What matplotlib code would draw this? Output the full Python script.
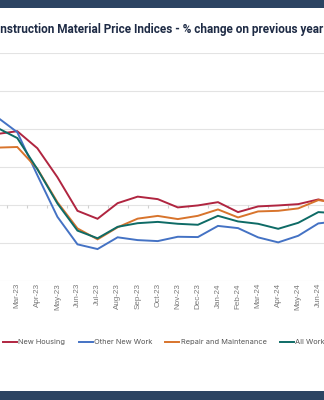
"""Construction material price indices, % change on previous year (cropped view)."""
import matplotlib
matplotlib.use("Agg")
import matplotlib.pyplot as plt
from matplotlib.patches import Rectangle

# --- data ---------------------------------------------------------------------
months = ["Feb-23", "Mar-23", "Apr-23", "May-23", "Jun-23", "Jul-23", "Aug-23",
          "Sep-23", "Oct-23", "Nov-23", "Dec-23", "Jan-24", "Feb-24", "Mar-24",
          "Apr-24", "May-24", "Jun-24", "Jul-24"]
new_housing = [9.38, 9.74, 7.50, 3.68, -0.75, -1.80, 0.26, 1.12, 0.79, -0.30,
               -0.04, 0.39, -0.92, -0.17, -0.04, 0.13, 0.75, 0.13]
other_new_work = [11.59, 9.61, 3.95, -1.54, -5.17, -5.79, -4.24, -4.61, -4.74,
                  -4.17, -4.21, -2.74, -3.03, -4.25, -4.91, -4.04, -2.41, -2.11]
repair_maint = [7.58, 7.66, 4.80, 0.39, -3.07, -4.51, -2.92, -1.78, -1.42, -1.84,
                -1.41, -0.57, -1.62, -0.83, -0.75, -0.43, 0.66, 0.28]
all_work = [10.19, 8.84, 4.74, 0.22, -3.36, -4.37, -2.86, -2.38, -2.21, -2.46,
            -2.59, -1.41, -2.15, -2.46, -3.12, -2.33, -0.92, -1.08]
y_ticks = [-10, -5, 0, 5, 10, 15, 20]

TITLE = "Construction Material Price Indices - % change on previous year"

COLORS = {
    "New Housing": "#B02540",
    "Other New Work": "#4472C4",
    "Repair and Maintenance": "#D8742C",
    "All Work": "#0E6B66",
}
NAVY = "#2C4462"
GRID = "#E3E3E3"
TICK_TXT = "#7A7A7A"
LEGEND_TXT = "#555555"
TITLE_TXT = "#1E2B45"

W, H = 324, 400
fig = plt.figure(figsize=(W / 100, H / 100), dpi=100)
renderer = fig.canvas.get_renderer()


def text_width(s, size, **kw):
    t = fig.text(0, 0, s, fontsize=size, **kw)
    w = t.get_window_extent(renderer).width
    t.remove()
    return w


# photo band top and bottom (just a flat navy here)
fig.add_artist(Rectangle((0, 1 - 8 / H), 1, 8 / H, transform=fig.transFigure,
                         facecolor=NAVY, edgecolor="none", zorder=0))
fig.add_artist(Rectangle((0, 0), 1, 9 / H, transform=fig.transFigure,
                         facecolor=NAVY, edgecolor="none", zorder=0))

# axes run past both edges of the picture: we only see the middle of the chart
x0_px, step_px = -2.8, 20.07
xlo, xhi = -3.5, len(months) + 0.5
left_px = x0_px + xlo * step_px
right_px = x0_px + xhi * step_px
ax = fig.add_axes([left_px / W, (H - 281) / H, (right_px - left_px) / W, 228 / H])
ax.set_facecolor("none")

x = list(range(len(months)))
series = [("New Housing", new_housing), ("Other New Work", other_new_work),
          ("Repair and Maintenance", repair_maint), ("All Work", all_work)]
handles = []
for name, vals in series:
    (ln,) = ax.plot(x, vals, color=COLORS[name], lw=1.4, label=name,
                    solid_joinstyle="miter", zorder=3)
    handles.append(ln)

ax.set_xlim(xlo, xhi)
ax.set_ylim(-10, 20.05)
ax.set_yticks(y_ticks)
ax.yaxis.grid(True, color=GRID, lw=0.8)
ax.set_axisbelow(True)
ax.tick_params(axis="y", length=0, labelleft=False)
for s in ax.spines.values():
    s.set_visible(False)

# category axis crossing at zero, with tick marks between months
ax.vlines([i + 0.5 for i in range(-4, len(months))], -0.4, 0, color="#D0D0D0",
          lw=0.8, zorder=2)
# only the months that fall inside the picture get a label
shown = x[1:-1]
ax.set_xticks(shown)
ax.set_xticklabels(months[1:-1], rotation=90, fontsize=5.8, color=TICK_TXT,
                   family="Liberation Sans")
ax.tick_params(axis="x", length=0, pad=1.5)

# title, centred on the full chart so both ends are cut off
t_kw = dict(weight="bold", family="Roboto")
visible = TITLE[2:-1]
fs_title = 10 * 318 / text_width(visible, 10, **t_kw)
x_start = -text_width("Co", fs_title, **t_kw)
fig.text(x_start / W, (H - 29) / H, TITLE, fontsize=fs_title, color=TITLE_TXT,
         ha="left", va="center", **t_kw)

# legend
fs_leg = 6 * 46.7 / text_width("New Housing", 6, family="Inter")
fs_px = fs_leg * 100 / 72
fig.legend(handles=handles, loc="center left", ncol=4, frameon=False,
           bbox_to_anchor=(3 / W, (H - 342.3) / H), bbox_transform=fig.transFigure,
           borderaxespad=0, borderpad=0, handlelength=14 / fs_px,
           handletextpad=1.5 / fs_px, columnspacing=13 / fs_px,
           prop={"family": "Inter", "size": fs_leg}, labelcolor=LEGEND_TXT)

fig.savefig("out.png", dpi=100)
